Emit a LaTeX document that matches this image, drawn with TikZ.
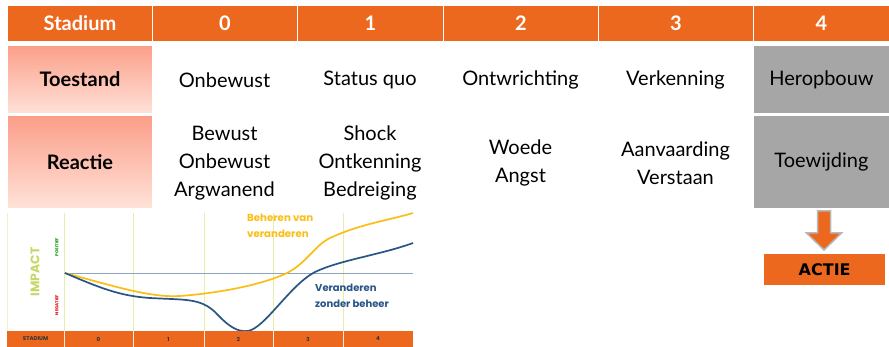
\documentclass[tikz,border=0pt]{standalone}
\usepackage{fontspec}
\setmainfont{Lato}
\newfontfamily\heavyfont{DejaVu Sans}
\newfontfamily\chartfont{Poppins}
\definecolor{hdr}{RGB}{236,104,30}
\definecolor{gry}{RGB}{166,166,166}
\definecolor{saltop}{RGB}{251,158,136}
\definecolor{salbot}{RGB}{255,226,217}
\definecolor{gridc}{RGB}{236,236,170}
\definecolor{basec}{RGB}{140,165,190}
\definecolor{ylw}{RGB}{250,190,20}
\definecolor{blu}{RGB}{40,85,135}
\definecolor{impc}{RGB}{200,215,100}
\begin{document}
\begin{tikzpicture}[x=1pt,y=-1pt,
  cell/.style={inner sep=0pt, anchor=north west},
  hcell/.style={cell, fill=hdr, draw=white, line width=1pt, text=white, font=\fontsize{20}{24}\selectfont\bfseries},
  lcell/.style={cell, top color=saltop, bottom color=salbot, draw=white, line width=1pt, font=\fontsize{20}{24}\selectfont\bfseries},
  gcell/.style={cell, fill=gry, draw=white, line width=1pt, font=\fontsize{20}{24}\selectfont},
  txt/.style={align=center, inner sep=0pt, font=\fontsize{20}{28}\selectfont},
  chnum/.style={font=\chartfont\fontsize{5.5}{7}\selectfont\bfseries, text=black!80, inner sep=0pt},
]
\useasboundingbox (0,0) rectangle (889,347);
% header row
\node[hcell, minimum width=145pt, minimum height=36pt] (h0) at (7,5) {Stadium};
\node[hcell, minimum width=145pt, minimum height=36pt] (h1) at (152,5) {0};
\node[hcell, minimum width=146pt, minimum height=36pt] (h2) at (297,5) {1};
\node[hcell, minimum width=155pt, minimum height=36pt] (h3) at (443,5) {2};
\node[hcell, minimum width=155pt, minimum height=36pt] (h4) at (598,5) {3};
\node[hcell, minimum width=136pt, minimum height=36pt] (h5) at (753,5) {4};
% label column
\node[lcell, minimum width=145pt, minimum height=68pt] (toe) at (7,45) {Toestand};
\node[lcell, minimum width=145pt, minimum height=93pt] (rea) at (7,115) {Reactie};
% gray column
\node[gcell, minimum width=136pt, minimum height=68pt] (her) at (753,45) {Heropbouw};
\node[gcell, minimum width=136pt, minimum height=93pt] (tw) at (753,115) {Toewijding};
% Toestand row
\node[txt] (t0) at (224.5,80) {Onbewust};
\node[txt] (t1) at (370,80) {Status quo};
\node[txt] (t2) at (520.5,80) {Ontwrichting};
\node[txt] (t3) at (675.5,80) {Verkenning};
% Reactie row
\node[txt] (r0) at (224.5,163) {Bewust\\Onbewust\\Argwanend};
\node[txt] (r1) at (370,163) {Shock\\Ontkenning\\Bedreiging};
\node[txt] (r2) at (520.5,163) {Woede\\Angst};
\node[txt] (r3) at (675.5,163) {Aanvaarding\\Verstaan};
% ACTIE
\node[cell, fill=hdr, minimum width=121pt, minimum height=31pt, font=\heavyfont\fontsize{16}{18}\selectfont\bfseries] (actie) at (764,254) {ACTIE};
\draw[draw=gry!80, line width=1.5pt, fill=hdr, line join=miter]
  (817.5,211) -- (830.5,211) -- (830.5,233) -- (841.5,233) -- (824,250) -- (806.5,233) -- (817.5,233) -- cycle;
% chart
\fill[white] (7,213) rectangle (413,331);
\foreach \xx in {64,133,204,273,343} \draw[gridc, line width=0.8pt] (\xx,213) -- (\xx,331);
\draw[gridc!70, line width=0.6pt] (7,213) -- (7,331);
\draw[basec, line width=0.9pt] (64,273.5) -- (413,273.5);
\draw[ylw, line width=1.7pt] (65,273) .. controls (110,285) and (150,298) .. (180,296)
  .. controls (220,293) and (260,285) .. (285,274)
  .. controls (305,265) and (315,245) .. (330,238)
  .. controls (360,224) and (390,220) .. (413,213);
\draw[blu, line width=1.7pt] (65,273) .. controls (100,288) and (120,296) .. (150,298)
  .. controls (185,300) and (200,298) .. (215,312)
  .. controls (230,328) and (238,332) .. (248,331)
  .. controls (265,328) and (290,285) .. (315,272)
  .. controls (340,260) and (380,255) .. (413,243);
\node[text=ylw, font=\chartfont\fontsize{10.2}{15.5}\selectfont\bfseries, align=left, anchor=north west, inner sep=0pt] (lblY) at (247,214) {Beheren van\\veranderen};
\node[text=blu, font=\chartfont\fontsize{10}{15.5}\selectfont\bfseries, align=left, anchor=north west, inner sep=0pt] (lblB) at (315,284) {Veranderen\\zonder beheer};
\node[rotate=90, text=impc, font=\chartfont\fontsize{12.4}{15}\selectfont\bfseries, inner sep=0pt] (imp) at (35,272) {IMPACT};
\node[rotate=90, text=green!60!black, font=\chartfont\fontsize{4.2}{5}\selectfont\bfseries, inner sep=0pt] (pos) at (57,247) {POSITIEF};
\node[rotate=90, text=red!90!black, font=\chartfont\fontsize{4.2}{5}\selectfont\bfseries, inner sep=0pt] (neg) at (57,305) {NEGATIEF};
% chart stadium bar
\fill[hdr] (7,331) rectangle (413,347);
\foreach \xx in {64,133,204,273,343} \draw[white!85!hdr, line width=0.6pt] (\xx,331) -- (\xx,347);
\node[chnum] (cs) at (35.5,339) {STADIUM};
\node[chnum] (c0) at (98.5,339) {0};
\node[chnum] (c1) at (168.5,339) {1};
\node[chnum] (c2) at (238.5,339) {2};
\node[chnum] (c3) at (308,339) {3};
\node[chnum] (c4) at (378,339) {4};
\end{tikzpicture}
\end{document}
